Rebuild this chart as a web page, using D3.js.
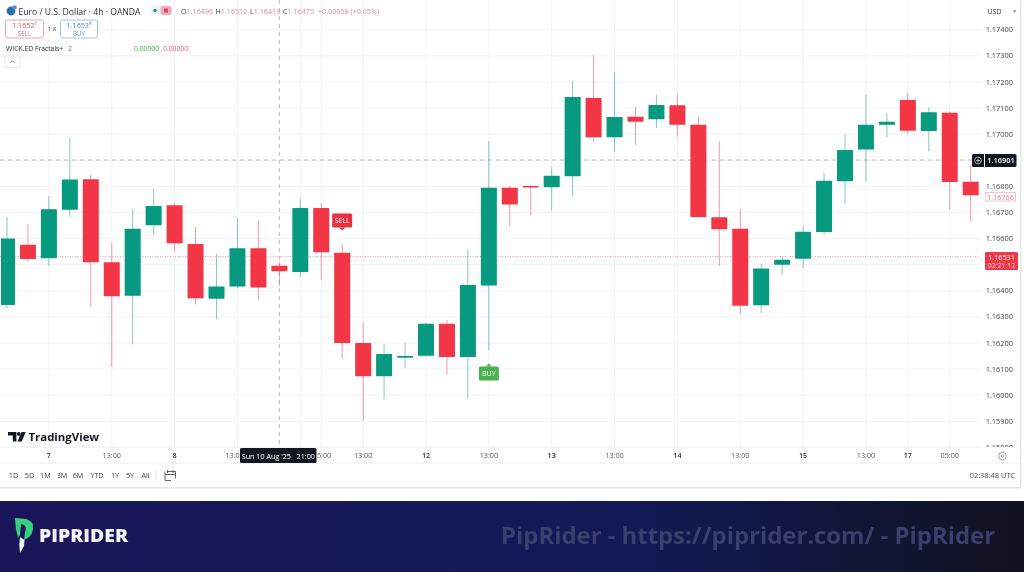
<!DOCTYPE html>
<html>
<head>
<meta charset="utf-8">
<script src="https://cdn.jsdelivr.net/npm/d3@7"></script>
<style>
  html, body { margin: 0; padding: 0; background: #fff; overflow: hidden; }
  svg { display: block; filter: blur(0.35px); }
  text { font-family: "Open Sans", "Noto Sans", sans-serif; }
</style>
</head>
<body>
<script>
// index along the 4h time axis, prices
const opens  = [1.16346,1.16576,1.16525,1.16711,1.16827,1.16509,1.16381,1.16651,1.16728,1.16579,1.16370,1.16416,1.16563,1.16496,1.16472,1.16717,1.16546,1.16200,1.16073,1.16144,1.16151,1.16274,1.16146,1.16420,1.16795,1.16802,1.16797,1.16839,1.17139,1.16988,1.17067,1.17057,1.17111,1.17036,1.16682,1.16638,1.16345,1.16500,1.16523,1.16625,1.16820,1.16941,1.17036,1.17131,1.17012,1.17082,1.16818];
const closes = [1.16600,1.16522,1.16712,1.16826,1.16509,1.16379,1.16638,1.16725,1.16582,1.16371,1.16416,1.16563,1.16413,1.16475,1.16717,1.16548,1.16200,1.16073,1.16158,1.16150,1.16274,1.16146,1.16422,1.16795,1.16731,1.16797,1.16841,1.17143,1.16988,1.17066,1.17048,1.17112,1.17036,1.16683,1.16636,1.16343,1.16485,1.16519,1.16626,1.16822,1.16939,1.17036,1.17048,1.17013,1.17084,1.16817,1.16766];
const highs  = [1.16684,1.16657,1.16763,1.16985,1.16846,1.16584,1.16713,1.16791,1.16736,1.16644,1.16541,1.16678,1.16669,1.16512,1.16754,1.16736,1.16579,1.16278,1.16195,1.16199,1.16278,1.16288,1.16556,1.16973,1.16803,1.16805,1.16875,1.17204,1.17303,1.17238,1.17104,1.17150,1.17153,1.17065,1.16973,1.16713,1.16502,1.16531,1.16646,1.16852,1.16998,1.17151,1.17080,1.17159,1.17103,1.17088,1.16882];
const lows   = [1.16333,1.16509,1.16495,1.16682,1.16339,1.16109,1.16195,1.16613,1.16551,1.16348,1.16291,1.16410,1.16364,1.16419,1.16454,1.16441,1.16139,1.15902,1.15984,1.16104,1.16146,1.16079,1.15987,1.16173,1.16646,1.16690,1.16707,1.16764,1.16971,1.16932,1.16959,1.17024,1.16989,1.16680,1.16495,1.16311,1.16314,1.16461,1.16486,1.16613,1.16734,1.16818,1.16988,1.17000,1.16934,1.16710,1.16665];

const priceTicks = [1.174,1.173,1.172,1.171,1.170,1.169,1.168,1.167,1.166,1.165,1.164,1.163,1.162,1.161,1.160,1.159,1.158];
const hiddenPriceLabels = [1.169, 1.165];
const gridIdx    = [2,5,8,11,14,15,17,20,23,26,29,32,35,38,41,43,45];
// the tag over the crosshair hides the labels around it, so those are left to partTicks
const timeIdx    = [2,5,8,17,20,23,26,29,32,35,38,41,43,45];
const timeLabels = ["7","13:00","8","13:00","12","13:00","13","13:00","14","13:00","15","13:00","17","05:00"];
const dayLabels  = ["7","8","12","13","14","15","17"];
const ranges     = ["1D","5D","1M","3M","6M","YTD","1Y","5Y","All"];

const crossIdx = 13, crossPrice = 1.16901, lastPrice = 1.16531, prevClose = 1.16766;

const width = 1024, height = 572;
const GREEN = "#089981", RED = "#f23645";
const paneBottom = 447, axisRight = 980;

const x = d3.scaleLinear().domain([0, 46]).range([7, 970.7]);
const y = d3.scaleLinear().domain([1.169, 1.158]).range([160.3, 447.4]);

const svg = d3.select("body").append("svg").attr("width", width).attr("height", height);

const defs = svg.append("defs");
const grad = defs.append("linearGradient").attr("id", "banner");
grad.append("stop").attr("offset", "0%").attr("stop-color", "#1a1558");
grad.append("stop").attr("offset", "62%").attr("stop-color", "#111a56");
grad.append("stop").attr("offset", "100%").attr("stop-color", "#11121f");
defs.append("clipPath").attr("id", "pane").append("rect")
    .attr("x", 1).attr("width", 1019).attr("height", paneBottom);

// panel
svg.append("rect").attr("width", width).attr("height", height).attr("fill", "#fff");
svg.append("rect").attr("x", 0).attr("y", 487).attr("width", 1020).attr("height", 1.5).attr("fill", "#e6e6ea");
svg.append("rect").attr("x", 1020).attr("y", 0).attr("width", 1.5).attr("height", 488).attr("fill", "#e8e8ec");

// grid
const grid = svg.append("g").attr("stroke", "#f2f2f5").attr("stroke-width", 1);
grid.selectAll(".gx").data(gridIdx).join("line")
    .attr("x1", d => x(d)).attr("x2", d => x(d)).attr("y1", 0).attr("y2", paneBottom);
grid.selectAll(".gy").data(priceTicks).join("line")
    .attr("x1", 0).attr("x2", axisRight).attr("y1", d => y(d)).attr("y2", d => y(d));

// axis separators
svg.append("line").attr("x1", 0).attr("x2", 1020).attr("y1", paneBottom + 16).attr("y2", paneBottom + 16).attr("stroke", "#eeeef1");
svg.append("line").attr("x1", 0).attr("x2", 1020).attr("y1", paneBottom).attr("y2", paneBottom).attr("stroke", "#f3f3f6");

// last price and crosshair lines
svg.append("line").attr("x1", 0).attr("x2", axisRight).attr("y1", y(lastPrice)).attr("y2", y(lastPrice))
    .attr("stroke", RED).attr("stroke-opacity", 0.55).attr("stroke-dasharray", "1 1.5");
svg.append("line").attr("x1", 0).attr("x2", axisRight).attr("y1", y(crossPrice)).attr("y2", y(crossPrice))
    .attr("stroke", "#bdbdc4").attr("stroke-dasharray", "4 4");
svg.append("line").attr("x1", x(crossIdx)).attr("x2", x(crossIdx)).attr("y1", 0).attr("y2", paneBottom)
    .attr("stroke", "#bdbdc4").attr("stroke-dasharray", "4 4");

// candles
const candles = d3.range(opens.length).map(i => ({ i, o: opens[i], c: closes[i], h: highs[i], l: lows[i] }));
const colour = d => d.c >= d.o ? GREEN : RED;
const bodyW = 16;

const cg = svg.append("g").attr("clip-path", "url(#pane)").selectAll("g").data(candles).join("g");
cg.append("line")
    .attr("x1", d => x(d.i)).attr("x2", d => x(d.i))
    .attr("y1", d => y(d.h)).attr("y2", d => y(d.l))
    .attr("stroke", colour).attr("stroke-width", 1).attr("stroke-opacity", 0.5);
cg.append("rect")
    .attr("x", d => x(d.i) - bodyW / 2)
    .attr("y", d => Math.min(y(d.o), y(d.c)))
    .attr("width", bodyW)
    .attr("height", d => Math.max(1.6, Math.abs(y(d.o) - y(d.c))))
    .attr("rx", 0.6)
    .attr("fill", colour);

// SELL / BUY markers
function marker(idx, top, label, fill, up) {
  const cx = x(idx), w = 20, h = 14;
  const g = svg.append("g");
  g.append("rect").attr("x", cx - w / 2).attr("y", top).attr("width", w).attr("height", h).attr("rx", 1.5).attr("fill", fill);
  const tip = up ? `M${cx-3},${top} L${cx},${top-3} L${cx+3},${top} Z` : `M${cx-3},${top+h} L${cx},${top+h+3} L${cx+3},${top+h} Z`;
  g.append("path").attr("d", tip).attr("fill", fill);
  g.append("text").attr("x", cx).attr("y", top + 9.8).attr("text-anchor", "middle")
      .attr("font-size", 7).attr("fill", "#fff").text(label);
}
marker(16, 213.5, "SELL", "#e8313f", false);
marker(23, 366.5, "BUY", "#4caf50", true);

// price axis labels, the lowest one is cut by the time axis
svg.append("g").attr("clip-path", "url(#pane)").selectAll("text").data(priceTicks.filter(d => !hiddenPriceLabels.includes(d))).join("text")
    .attr("x", 1013).attr("y", d => y(d) + 2.5).attr("text-anchor", "end")
    .attr("font-size", 7.4).attr("fill", "#3f4350").text(d => d.toFixed(5));

// price axis tags
svg.append("rect").attr("x", 972).attr("y", 154).attr("width", 44.5).attr("height", 13).attr("rx", 1.5).attr("fill", "#131722");
svg.append("line").attr("x1", 984.5).attr("x2", 984.5).attr("y1", 154).attr("y2", 167).attr("stroke", "#fff").attr("stroke-width", 1);
svg.append("circle").attr("cx", 978).attr("cy", 160.5).attr("r", 3.4).attr("fill", "none").attr("stroke", "#ddd").attr("stroke-width", 0.7);
svg.append("path").attr("d", "M976,160.5h4M978,158.5v4").attr("stroke", "#ddd").attr("stroke-width", 0.7);
svg.append("text").attr("x", 1001).attr("y", 163).attr("text-anchor", "middle").attr("font-size", 7.4).attr("font-weight", 600)
    .attr("fill", "#fff").text(crossPrice.toFixed(5));

svg.append("rect").attr("x", 985.5).attr("y", 192.5).attr("width", 30).attr("height", 8.5).attr("fill", "#fff").attr("stroke", "#f3b6bd").attr("stroke-width", 0.8);
svg.append("text").attr("x", 1000.5).attr("y", 199.5).attr("text-anchor", "middle").attr("font-size", 7.2).attr("fill", "#e6808a").text(prevClose.toFixed(5));

svg.append("rect").attr("x", 985).attr("y", 252).attr("width", 33).attr("height", 18).attr("rx", 1.5).attr("fill", RED);
svg.append("text").attr("x", 1001.5).attr("y", 260).attr("text-anchor", "middle").attr("font-size", 7.2).attr("fill", "#fff").text(lastPrice.toFixed(5));
svg.append("text").attr("x", 1001.5).attr("y", 268).attr("text-anchor", "middle").attr("font-size", 7).attr("fill", "#fde2e4").text("02:21:12");

// USD button
svg.append("text").attr("x", 994.5).attr("y", 14).attr("text-anchor", "middle").attr("font-size", 7).attr("fill", "#30343f").text("USD");
svg.append("path").attr("d", "M1013,10.5h3.4l-1.7,1.8z").attr("fill", "#555");

// time axis labels
svg.append("g").selectAll("text").data(timeIdx.map((d, i) => ({ idx: d, label: timeLabels[i] }))).join("text")
    .attr("x", d => x(d.idx)).attr("y", 458).attr("text-anchor", "middle")
    .attr("font-size", 7.2)
    .attr("font-weight", d => dayLabels.includes(d.label) ? 600 : 400)
    .attr("fill", d => dayLabels.includes(d.label) ? "#2a2e39" : "#555a66")
    .text(d => d.label);

// crosshair time tag with what is left of the two labels it covers
const partTicks = [["13:0", 239.5, "end"], ["5:00", 317, "start"]];
svg.append("g").selectAll("text").data(partTicks).join("text")
    .attr("x", d => d[1]).attr("y", 458).attr("text-anchor", d => d[2])
    .attr("font-size", 7.2).attr("fill", "#555a66").text(d => d[0]);
svg.append("rect").attr("x", 240).attr("y", 448).attr("width", 76.5).attr("height", 15).attr("rx", 1.5).attr("fill", "#131722");
svg.append("text").attr("x", 278.3).attr("y", 459).attr("text-anchor", "middle").attr("font-size", 7.2).attr("fill", "#fff")
    .attr("xml:space", "preserve").text("Sun 10 Aug '25   21:00");

// settings glyph in the corner
svg.append("circle").attr("cx", 1002.5).attr("cy", 456).attr("r", 3.8).attr("fill", "none").attr("stroke", "#666").attr("stroke-width", 0.6);
svg.append("circle").attr("cx", 1002.5).attr("cy", 456).attr("r", 1.2).attr("fill", "none").attr("stroke", "#666").attr("stroke-width", 0.6);

// range bar
const rangeX = [13.5, 29.5, 45.5, 62, 78, 97, 115, 130, 145.5];
svg.append("g").selectAll("text").data(ranges).join("text")
    .attr("x", (d, i) => rangeX[i]).attr("y", 478).attr("text-anchor", "middle")
    .attr("font-size", 7.2).attr("fill", "#3f4350").text(d => d);
svg.append("line").attr("x1", 156).attr("x2", 156).attr("y1", 470).attr("y2", 481).attr("stroke", "#e4e4e8");
svg.append("path").attr("d", "M167,471.5h8.5v7M165,474.5h10.5M165,471.5v9h6M167.5,470v3M173,470v3")
    .attr("fill", "none").attr("stroke", "#50535e").attr("stroke-width", 0.9);
svg.append("text").attr("x", 1015).attr("y", 478).attr("text-anchor", "end").attr("font-size", 7.4).attr("fill", "#3f4350").text("02:38:48 UTC");

// legend
const sym = svg.append("g");
sym.append("circle").attr("cx", 11).attr("cy", 11).attr("r", 4.4).attr("fill", "#2a6fa8");
sym.append("circle").attr("cx", 14.5).attr("cy", 7.5).attr("r", 2.3).attr("fill", "#5d8fc0");
svg.append("text").attr("x", 18.5).attr("y", 14.5).attr("font-size", 8.6).attr("fill", "#2a2e39").text("Euro / U.S. Dollar · 4h · OANDA");
svg.append("rect").attr("x", 150).attr("y", 5.5).attr("width", 23).attr("height", 10).attr("rx", 5).attr("fill", "#eef4f3");
svg.append("circle").attr("cx", 155).attr("cy", 10.5).attr("r", 1.7).attr("fill", GREEN);
svg.append("rect").attr("x", 160.5).attr("y", 6).attr("width", 11).attr("height", 9).attr("rx", 2.5).attr("fill", "#f6a9bb");
svg.append("rect").attr("x", 164).attr("y", 8.5).attr("width", 4).attr("height", 4).attr("fill", "#d14a70");

const ohlc = [["O", "1.16496", 181], ["H", "1.16512", 215.5], ["L", "1.16419", 250], ["C", "1.16475", 283]];
ohlc.forEach(([k, v, px]) => {
  const t = svg.append("text").attr("x", px).attr("y", 13.5).attr("font-size", 7.2);
  t.append("tspan").attr("fill", "#3f4350").text(k);
  t.append("tspan").attr("fill", "#e58a96").text(v);
});
svg.append("text").attr("x", 318).attr("y", 13.5).attr("font-size", 7.2).attr("fill", "#e58a96").text("+0.00059 (+0.05%)");

// sell / buy boxes
svg.append("rect").attr("x", 5.5).attr("y", 20).attr("width", 38).attr("height", 18).attr("rx", 2.5).attr("fill", "#fff").attr("stroke", "#e99aa3").attr("stroke-width", 0.9);
svg.append("text").attr("x", 24.5).attr("y", 28).attr("text-anchor", "middle").attr("font-size", 7.2).attr("fill", "#d9525f").text("1.1652¹");
svg.append("text").attr("x", 24.5).attr("y", 35.5).attr("text-anchor", "middle").attr("font-size", 6.2).attr("fill", "#e0707b").text("SELL");
svg.append("text").attr("x", 52).attr("y", 31).attr("text-anchor", "middle").attr("font-size", 6).attr("fill", "#50535e").text("1.8");
svg.append("rect").attr("x", 60.5).attr("y", 20).attr("width", 37).attr("height", 18).attr("rx", 2.5).attr("fill", "#fff").attr("stroke", "#9db8de").attr("stroke-width", 0.9);
svg.append("text").attr("x", 79).attr("y", 28).attr("text-anchor", "middle").attr("font-size", 7.2).attr("fill", "#4f7fc4").text("1.1653⁹");
svg.append("text").attr("x", 79).attr("y", 35.5).attr("text-anchor", "middle").attr("font-size", 6.2).attr("fill", "#6c93cc").text("BUY");

svg.append("text").attr("x", 6).attr("y", 50.5).attr("font-size", 6.8).attr("fill", "#2a2e39").text("WICK.ED Fractals+");
svg.append("text").attr("x", 68).attr("y", 50.5).attr("font-size", 6.8).attr("fill", "#787b86").text("2");
svg.append("text").attr("x", 134).attr("y", 50.5).attr("font-size", 6.8).attr("fill", "#4caf50").text("0.00000");
svg.append("text").attr("x", 163).attr("y", 50.5).attr("font-size", 6.8).attr("fill", "#ef5a68").text("0.00000");
svg.append("rect").attr("x", 5).attr("y", 56).attr("width", 15).attr("height", 11.5).attr("rx", 1.5).attr("fill", "#fff").attr("stroke", "#e6e6ea");
svg.append("path").attr("d", "M10.5,62.8l2,-2l2,2").attr("fill", "none").attr("stroke", "#50535e").attr("stroke-width", 0.8);

// TradingView logo
const tv = svg.append("g").attr("fill", "#131722");
tv.append("path").attr("d", "M8,432h8.4v9.5h-3.6v-6h-4.8z");
tv.append("circle").attr("cx", 18.8).attr("cy", 433.9).attr("r", 1.9);
tv.append("path").attr("d", "M21.5,432h4.2l-4,9.5h-4.2z");
svg.append("text").attr("x", 28.5).attr("y", 441).attr("font-size", 11.4).attr("font-weight", 700).attr("fill", "#131722").text("TradingView");

// footer banner
svg.append("rect").attr("x", 0).attr("y", 501).attr("width", width).attr("height", 71).attr("fill", "url(#banner)");
svg.append("path").attr("d", "M15,518 L26,519 Q34,521 33,529 Q32,537 24,540 L25,532 Q27,527 24,525 L21,524 L20,535 L18,538 Q15,528 15,518 Z")
    .attr("fill", "#35d07f");
svg.append("path").attr("d", "M20,537 L24.5,540 L24,546 L20,553 Q18.5,545 20,537 Z").attr("fill", "#e8f6ee");
svg.append("text").attr("x", 39).attr("y", 541.5).attr("font-size", 17.5).attr("font-weight", 800)
    .attr("font-family", "Inter, 'Open Sans', sans-serif").attr("fill", "#f4f5fa")
    .attr("textLength", 89).attr("lengthAdjust", "spacingAndGlyphs").text("PIPRIDER");
svg.append("text").attr("x", 501).attr("y", 544).attr("font-size", 22.5).attr("font-weight", 700)
    .attr("font-family", "Inter, 'Open Sans', sans-serif").attr("fill", "#3a3f6d")
    .attr("textLength", 494).attr("lengthAdjust", "spacingAndGlyphs").text("PipRider - https://piprider.com/ - PipRider");
</script>
</body>
</html>
